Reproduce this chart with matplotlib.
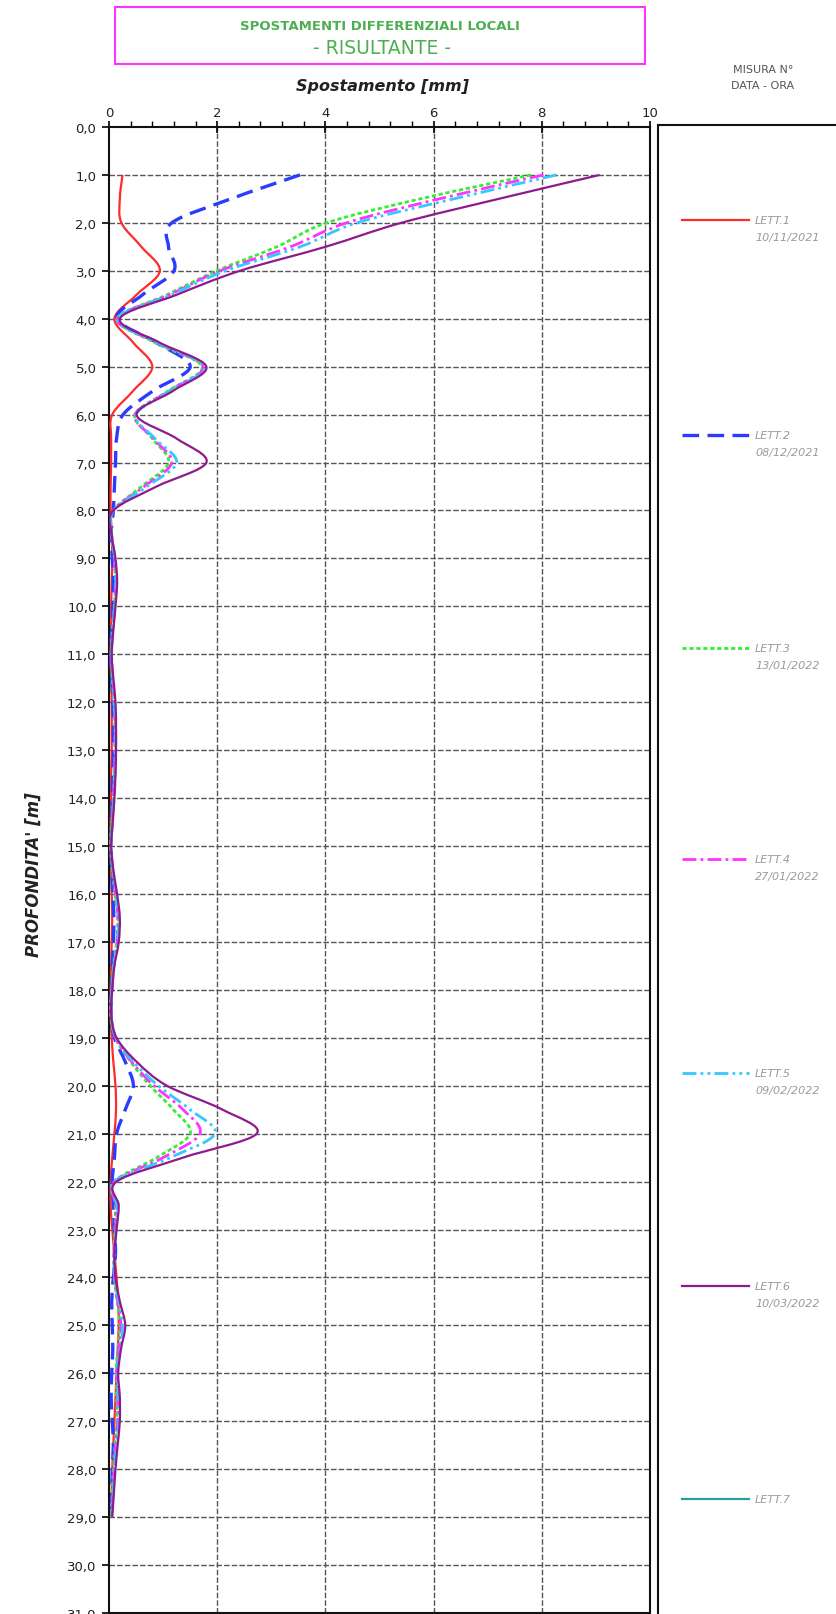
import numpy as np
import matplotlib
matplotlib.use("Agg")
from matplotlib import pyplot as plt, patches as mpatches
from matplotlib.path import Path
from matplotlib.lines import Line2D
from matplotlib.ticker import MultipleLocator

# Depths of the readings (m)
depth = [1.0, 1.5, 2.0, 2.5, 3.0, 3.5, 4.0, 4.5, 5.0, 5.5, 6.0, 6.5, 7.0, 7.5, 8.0,
         8.5, 9.0, 9.5, 10.0, 10.5, 11.0, 11.5, 12.0, 12.5, 13.0, 13.5, 14.0, 14.5, 15.0,
         15.5, 16.0, 16.5, 17.0, 17.5, 18.0, 18.5, 19.0, 19.5, 20.0, 20.5, 21.0, 21.5, 22.0,
         22.5, 23.0, 23.5, 24.0, 24.5, 25.0, 25.5, 26.0, 26.5, 27.0, 27.5, 28.0, 28.5, 29.0]

# Resulting local differential displacement (mm) for each reading
lett1 = [0.25, 0.20, 0.23, 0.60, 0.94, 0.51, 0.10, 0.45, 0.80, 0.45, 0.06, 0.04, 0.04, 0.03, 0.03,
         0.05, 0.06, 0.05, 0.04, 0.04, 0.03, 0.04, 0.05, 0.05, 0.05, 0.04, 0.04, 0.03, 0.03,
         0.04, 0.05, 0.06, 0.05, 0.04, 0.03, 0.03, 0.05, 0.08, 0.12, 0.13, 0.10, 0.06, 0.03,
         0.03, 0.06, 0.10, 0.14, 0.17, 0.18, 0.16, 0.14, 0.12, 0.10, 0.08, 0.06, 0.05, 0.04]
lett2 = [3.53, 2.25, 1.16, 1.10, 1.20, 0.62, 0.15, 0.88, 1.50, 0.82, 0.26, 0.14, 0.12, 0.10, 0.08,
         0.04, 0.06, 0.08, 0.07, 0.05, 0.03, 0.05, 0.07, 0.08, 0.08, 0.07, 0.06, 0.05, 0.04,
         0.05, 0.07, 0.09, 0.08, 0.06, 0.05, 0.04, 0.10, 0.30, 0.45, 0.30, 0.14, 0.10, 0.06,
         0.08, 0.10, 0.12, 0.08, 0.05, 0.06, 0.07, 0.05, 0.04, 0.06, 0.08, 0.06, 0.05, 0.04]
lett3 = [7.80, 5.75, 4.02, 3.10, 1.99, 1.07, 0.15, 0.85, 1.72, 1.10, 0.48, 0.80, 1.10, 0.60, 0.08,
         0.05, 0.10, 0.12, 0.10, 0.06, 0.04, 0.06, 0.09, 0.11, 0.11, 0.10, 0.08, 0.05, 0.03,
         0.06, 0.11, 0.16, 0.14, 0.08, 0.05, 0.03, 0.12, 0.40, 0.76, 1.19, 1.50, 0.88, 0.10,
         0.12, 0.11, 0.09, 0.10, 0.15, 0.20, 0.16, 0.13, 0.14, 0.15, 0.11, 0.08, 0.06, 0.04]
lett4 = [8.03, 6.10, 4.39, 3.35, 2.05, 1.12, 0.15, 0.88, 1.74, 1.12, 0.48, 0.82, 1.16, 0.65, 0.08,
         0.05, 0.10, 0.12, 0.10, 0.07, 0.04, 0.07, 0.10, 0.11, 0.11, 0.10, 0.08, 0.06, 0.04,
         0.07, 0.12, 0.17, 0.15, 0.09, 0.05, 0.04, 0.12, 0.42, 0.83, 1.37, 1.68, 1.00, 0.10,
         0.13, 0.12, 0.09, 0.10, 0.16, 0.22, 0.18, 0.14, 0.16, 0.16, 0.12, 0.09, 0.07, 0.05]
lett5 = [8.27, 6.37, 4.58, 3.53, 2.15, 1.15, 0.15, 0.90, 1.76, 1.14, 0.50, 0.85, 1.25, 0.70, 0.08,
         0.05, 0.11, 0.13, 0.11, 0.07, 0.05, 0.07, 0.10, 0.12, 0.12, 0.11, 0.09, 0.06, 0.04,
         0.07, 0.13, 0.18, 0.16, 0.09, 0.05, 0.04, 0.13, 0.45, 0.91, 1.50, 1.96, 1.13, 0.10,
         0.15, 0.13, 0.10, 0.10, 0.18, 0.25, 0.20, 0.15, 0.17, 0.18, 0.14, 0.10, 0.08, 0.05]
lett6 = [9.07, 7.20, 5.40, 4.00, 2.42, 1.25, 0.20, 0.94, 1.80, 1.19, 0.51, 1.25, 1.80, 0.88, 0.08,
         0.05, 0.12, 0.15, 0.12, 0.08, 0.05, 0.08, 0.12, 0.13, 0.13, 0.12, 0.10, 0.07, 0.04,
         0.08, 0.15, 0.20, 0.18, 0.10, 0.06, 0.04, 0.14, 0.51, 1.07, 2.10, 2.73, 1.37, 0.14,
         0.18, 0.14, 0.10, 0.12, 0.20, 0.30, 0.22, 0.17, 0.20, 0.20, 0.16, 0.12, 0.09, 0.06]
lett7 = []

labels = ["LETT.1", "LETT.2", "LETT.3", "LETT.4", "LETT.5", "LETT.6", "LETT.7"]
dates = ["10/11/2021", "08/12/2021", "13/01/2022", "27/01/2022", "09/02/2022", "10/03/2022", ""]

styles = [
    dict(color="#ff2a2a", lw=1.6, ls="-"),
    dict(color="#2a3cff", lw=2.4, ls=(0, (5, 2.5))),
    dict(color="#33ee33", lw=2.0, ls=(0, (1.5, 1))),
    dict(color="#ff33ff", lw=2.0, ls=(0, (5, 1.5, 1, 1.5))),
    dict(color="#33c8ff", lw=2.0, ls=(0, (5, 1.5, 1, 1.5, 1, 1.5))),
    dict(color="#8e1a8e", lw=1.6, ls="-"),
    dict(color="#2a9d9d", lw=1.6, ls="-"),
]

W, H = 837, 1615


def fxy(x, y):
    # pixel position (from top-left) -> figure fraction
    return x / W, 1 - y / H


def smooth_path(xs, ys):
    # Catmull-Rom style bezier through the readings, like a smoothed spreadsheet line
    p = np.column_stack([xs, ys]).astype(float)
    verts = [p[0]]
    codes = [Path.MOVETO]
    n = len(p)
    for i in range(n - 1):
        p0 = p[max(i - 1, 0)]
        p1 = p[i]
        p2 = p[i + 1]
        p3 = p[min(i + 2, n - 1)]
        c1 = p1 + (p2 - p0) / 6.0
        c2 = p2 - (p3 - p1) / 6.0
        verts += [c1, c2, p2]
        codes += [Path.CURVE4] * 3
    return Path(verts, codes)


fig = plt.figure(figsize=(W / 100, H / 100), dpi=100)

x0, y0 = fxy(109, 1614)
x1, y1 = fxy(650, 128)
ax = fig.add_axes([x0, y0, x1 - x0, y1 - y0])
ax.set_xlim(0, 10)
ax.set_ylim(31, 0)

# grid
for d in range(1, 31):
    ax.axhline(d, color="#555555", lw=1.0, ls=(0, (4, 1.5)), zorder=1)
for v in [2, 4, 6, 8]:
    ax.axvline(v, color="#555555", lw=1.0, ls=(0, (4, 1.5)), zorder=1)

series = [lett1, lett2, lett3, lett4, lett5, lett6, lett7]
for vals, st in zip(series, styles):
    if len(vals) < 2:
        continue
    patch = mpatches.PathPatch(smooth_path(vals, depth[:len(vals)]), fill=False,
                               edgecolor=st["color"], lw=st["lw"], linestyle=st["ls"],
                               zorder=3, capstyle="butt")
    ax.add_patch(patch)

ax.xaxis.tick_top()
ax.set_xticks(range(0, 11, 2))
ax.xaxis.set_minor_locator(MultipleLocator(0.4))
ax.tick_params(axis="x", which="major", direction="inout", length=8, width=1.2,
               labelsize=9.5, pad=2, labelcolor="#222222")
ax.tick_params(axis="x", which="minor", direction="out", length=4, width=1.0)
ax.set_yticks(range(0, 32))
ax.set_yticklabels([f"{d},0" for d in range(0, 32)])
ax.tick_params(axis="y", direction="out", length=5, width=1.2, labelsize=9.5,
               labelcolor="#222222", pad=4)
for s in ax.spines.values():
    s.set_linewidth(1.5)
    s.set_color("#111111")

fig.text(*fxy(383, 86), "Spostamento [mm]", ha="center", va="center",
         fontsize=11.5, fontweight="bold", fontstyle="italic", color="#222222")
fig.text(*fxy(34, 875), "PROFONDITA' [m]", ha="center", va="center", rotation=90,
         fontsize=12, fontweight="bold", fontstyle="italic", color="#222222")

# title box
tb0 = fxy(115, 65)
tb1 = fxy(645, 8)
fig.patches.append(mpatches.Rectangle(tb0, tb1[0] - tb0[0], tb1[1] - tb0[1],
                                      transform=fig.transFigure, fill=False,
                                      edgecolor="#ff33ff", lw=1.5))
fig.text(*fxy(380, 27), "SPOSTAMENTI DIFFERENZIALI LOCALI", ha="center", va="center",
         fontsize=9.5, fontweight="bold", color="#4caf50")
fig.text(*fxy(382, 48), "- RISULTANTE -", ha="center", va="center",
         fontsize=13.5, color="#4caf50")

fig.text(*fxy(763, 70), "MISURA N°", ha="center", va="center", fontsize=8, color="#555555")
fig.text(*fxy(763, 86), "DATA - ORA", ha="center", va="center", fontsize=8, color="#555555")

# legend panel
lb0 = fxy(658, 1700)
lb1 = fxy(900, 125.6)
fig.patches.append(mpatches.Rectangle(lb0, lb1[0] - lb0[0], lb1[1] - lb0[1],
                                      transform=fig.transFigure, fill=False,
                                      edgecolor="#111111", lw=1.5))
legend_y = [221, 436, 649, 860, 1074, 1287, 1500]
for lab, dt, st, ly in zip(labels, dates, styles, legend_y):
    (ax_, ay_), (bx_, by_) = fxy(682, ly), fxy(749, ly)
    fig.add_artist(Line2D([ax_, bx_], [ay_, by_], transform=fig.transFigure,
                          color=st["color"], lw=st["lw"], linestyle=st["ls"]))
    fig.text(*fxy(755, ly), lab, ha="left", va="center", fontsize=8,
             fontstyle="italic", color="#9a9a9a")
    if dt:
        fig.text(*fxy(755, ly + 17), dt, ha="left", va="center", fontsize=8,
                 fontstyle="italic", color="#9a9a9a")

fig.savefig("out.png", dpi=100)
